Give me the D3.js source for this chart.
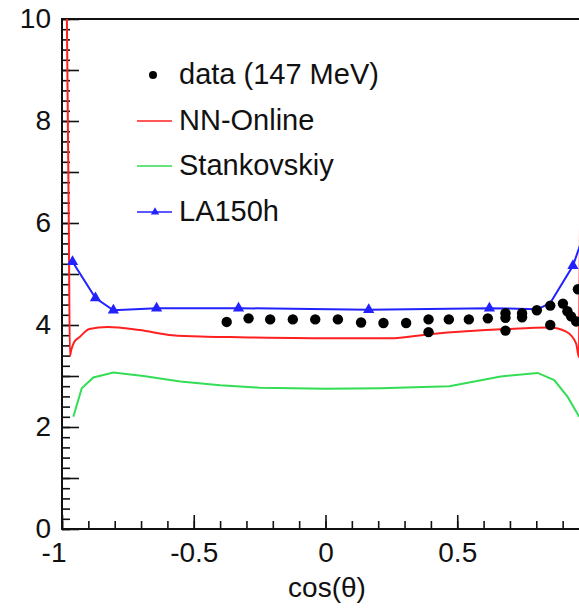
<!DOCTYPE html>
<html>
<head>
<meta charset="utf-8">
<script src="https://cdn.jsdelivr.net/npm/d3@7"></script>
<style>
  body { margin: 0; background: #fff; }
  svg { display: block; font-family: "Liberation Sans", Arial, sans-serif; }
</style>
</head>
<body>
<svg id="chart" width="579" height="608"></svg>
<script>
// measured data (147 MeV)
var dataCos = [-0.375, -0.292, -0.210, -0.124, -0.039, 0.047, 0.135, 0.220, 0.306, 0.391, 0.391,
    0.468, 0.544, 0.616, 0.683, 0.683, 0.683, 0.746, 0.746, 0.802, 0.853, 0.853, 0.901, 0.918,
    0.932, 0.951, 0.958];
var dataVal = [4.06, 4.13, 4.11, 4.11, 4.11, 4.11, 4.05, 4.04, 4.04, 4.11, 3.86,
    4.11, 4.11, 4.13, 4.23, 4.14, 3.89, 4.23, 4.15, 4.29, 4.38, 4.00, 4.42, 4.27,
    4.17, 4.07, 4.70];

// NN-Online
var nnCos = [-0.985, -0.974, -0.970, -0.965, -0.953, -0.934, -0.896, -0.827, -0.706, -0.581, -0.452,
    -0.326, 0.053, 0.243, 0.395, 0.686, 0.850, 0.913, 0.951, 0.962, 0.975];
var nnVal = [12, 5.86, 3.39, 3.51, 3.67, 3.76, 3.92, 3.96, 3.90, 3.80, 3.77,
    3.76, 3.74, 3.74, 3.82, 3.92, 3.95, 3.87, 3.64, 3.37, 12];

// Stankovskiy
var stCos = [-0.957, -0.925, -0.881, -0.805, -0.691, -0.551, -0.40, -0.25, 0.0, 0.209, 0.47, 0.665, 0.805, 0.868, 0.919, 0.963];
var stVal = [2.20, 2.76, 2.97, 3.07, 3.00, 2.89, 2.82, 2.77, 2.75, 2.76, 2.80, 2.99, 3.06, 2.92, 2.59, 2.20];

// LA150h
var laCos = [-0.960, -0.873, -0.805, -0.641, -0.330, 0.164, 0.622, 0.805, 0.853, 0.939, 0.975];
var laVal = [5.24, 4.53, 4.29, 4.33, 4.33, 4.30, 4.33, 4.31, 4.43, 5.16, 5.70];
var laMarkCos = [-0.960, -0.873, -0.805, -0.641, -0.330, 0.164, 0.622, 0.939];
var laMarkVal = [5.24, 4.53, 4.29, 4.33, 4.33, 4.30, 4.33, 5.16];

var xMajor = [-1, -0.5, 0, 0.5, 1];
var xLabels = ["-1", "-0.5", "0", "0.5", "1"];
var yMajor = [0, 2, 4, 6, 8, 10];
var legendLabels = ["data (147 MeV)", "NN-Online", "Stankovskiy", "LA150h"];
var legendColors = ["#000", "#ff2020", "#33dd55", "#2222ff"];

var svg = d3.select("#chart");
var x = d3.scaleLinear().domain([-1, 1]).range([62, 589]);
var y = d3.scaleLinear().domain([0, 10]).range([529, 19]);

svg.append("clipPath").attr("id", "plotclip")
    .append("rect").attr("x", x(-1)).attr("y", y(10)).attr("width", x(1) - x(-1)).attr("height", y(0) - y(10));

function pairs(xs, ys) {
    var out = [];
    for (var i = 0; i < xs.length; i++) out.push([xs[i], ys[i]]);
    return out;
}

// minor / major ticks
var xMinor = d3.range(-10, 11).map(function (d) { return d / 10; });
var yMinor = d3.range(0, 51).map(function (d) { return d / 5; });
var yMid = d3.range(0, 11);

var axes = svg.append("g");
axes.append("g").attr("transform", "translate(0," + y(0) + ")")
    .call(d3.axisBottom(x).tickValues(xMinor).tickSize(-8).tickFormat(""));
axes.append("g").attr("transform", "translate(0," + y(0) + ")")
    .call(d3.axisBottom(x).tickValues(xMajor).tickSize(-14).tickPadding(13)
        .tickFormat(function (d, i) { return xLabels[i]; }));
axes.append("g").attr("transform", "translate(" + x(-1) + ",0)")
    .call(d3.axisLeft(y).tickValues(yMinor).tickSize(-8).tickFormat(""));
axes.append("g").attr("transform", "translate(" + x(-1) + ",0)")
    .call(d3.axisLeft(y).tickValues(yMid).tickSize(-17).tickFormat(""));
axes.append("g").attr("transform", "translate(" + x(-1) + ",0)")
    .call(d3.axisLeft(y).tickValues(yMajor).tickSize(0).tickPadding(11));

axes.selectAll(".domain").remove();
axes.selectAll(".tick line").attr("stroke", "#111").attr("stroke-width", 1.6);
axes.selectAll("text").attr("font-size", 28).attr("fill", "#111")
    .attr("font-family", "Liberation Sans, Arial, sans-serif");
// first x label sits left of its tick
axes.selectAll("text").filter(function (d) { return d === -1; })
    .attr("text-anchor", "end").attr("dx", 4);
axes.selectAll("text").filter(function (d) { return d === 1; })
    .attr("dx", -3);

// frame
svg.append("rect").attr("x", x(-1)).attr("y", y(10))
    .attr("width", x(1) - x(-1)).attr("height", y(0) - y(10))
    .attr("fill", "none").attr("stroke", "#111").attr("stroke-width", 2);

var line = d3.line().x(function (d) { return x(d[0]); }).y(function (d) { return y(d[1]); });
var plot = svg.append("g").attr("clip-path", "url(#plotclip)");

plot.append("path").datum(pairs(stCos, stVal)).attr("d", line)
    .attr("fill", "none").attr("stroke", legendColors[2]).attr("stroke-width", 2);
plot.append("path").datum(pairs(nnCos, nnVal)).attr("d", line.curve(d3.curveMonotoneX))
    .attr("fill", "none").attr("stroke", legendColors[1]).attr("stroke-width", 2);
line.curve(d3.curveLinear);
plot.append("path").datum(pairs(laCos, laVal)).attr("d", line)
    .attr("fill", "none").attr("stroke", legendColors[3]).attr("stroke-width", 2);

var tri = d3.symbol().type(d3.symbolTriangle).size(55);
plot.selectAll(".la").data(pairs(laMarkCos, laMarkVal)).enter().append("path")
    .attr("transform", function (d) { return "translate(" + x(d[0]) + "," + y(d[1]) + ")"; })
    .attr("d", tri).attr("fill", legendColors[3]);

plot.selectAll(".pt").data(pairs(dataCos, dataVal)).enter().append("circle")
    .attr("cx", function (d) { return x(d[0]); })
    .attr("cy", function (d) { return y(d[1]); })
    .attr("r", 5.2).attr("fill", "#000");

// legend
var legend = svg.append("g");
var legY = [75, 121, 166, 212];
legendLabels.forEach(function (lab, i) {
    if (i === 0) {
        legend.append("circle").attr("cx", 153).attr("cy", legY[i]).attr("r", 4).attr("fill", "#000");
    } else {
        legend.append("line").attr("x1", 137).attr("x2", 172).attr("y1", legY[i]).attr("y2", legY[i])
            .attr("stroke", legendColors[i]).attr("stroke-width", 1.6);
        if (i === 3) {
            legend.append("path").attr("transform", "translate(155," + legY[i] + ")")
                .attr("d", d3.symbol().type(d3.symbolTriangle).size(30)).attr("fill", legendColors[i]);
        }
    }
    legend.append("text").attr("x", 179).attr("y", legY[i] + 9)
        .attr("font-size", 29).attr("fill", "#111").text(lab);
});

// axis title
svg.append("text").attr("x", 327).attr("y", 597).attr("text-anchor", "middle")
    .attr("font-size", 28).attr("fill", "#111").text("cos(θ)");
</script>
</body>
</html>
